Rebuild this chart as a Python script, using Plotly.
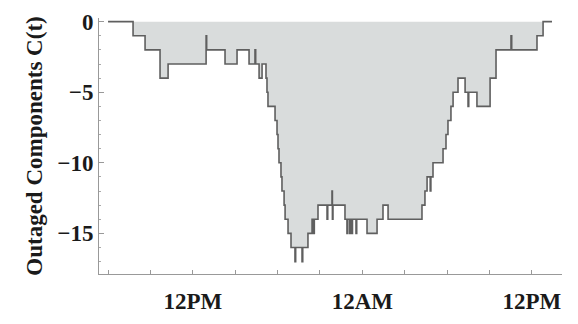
import plotly.graph_objects as go

# Time in hours (6 = 6AM day 1, 12 = 12PM, 24 = 12AM, 36 = 12PM day 2)
hours = [6.00, 7.77, 8.62, 9.68, 10.25, 12.94, 12.98, 14.28, 15.13, 15.98,
         16.40, 16.45, 16.69, 16.90, 17.18, 17.25, 17.32, 17.82, 17.96, 18.03,
         18.10, 18.24, 18.31, 18.46, 18.53, 18.74, 18.95, 19.23, 19.28, 19.73,
         19.78, 20.15, 20.44, 20.55, 20.60, 20.86, 21.50, 21.55, 21.85, 21.88,
         21.92, 22.77, 22.91, 22.96, 23.10, 23.15, 23.25, 23.30, 23.55, 23.60,
         24.33, 25.04, 25.46, 25.82, 28.22, 28.43, 28.58, 28.80, 28.85, 29.00,
         29.71, 29.92, 30.06, 30.27, 30.42, 30.77, 31.27, 31.48, 31.53, 32.11,
         33.04, 33.46, 34.52, 34.57, 36.36, 36.79, 37.42]
outaged = [0, -1, -2, -4, -3, -1, -2, -3, -2, -3,
           -2, -3, -4, -3, -4, -5, -6, -7, -8, -9,
           -10, -11, -12, -13, -14, -15, -16, -17, -16, -17,
           -16, -15, -14, -15, -14, -13, -14, -13, -12, -14,
           -13, -14, -15, -14, -15, -14, -15, -14, -15, -14,
           -15, -14, -13, -14, -13, -12, -11, -12, -11, -10,
           -9, -8, -7, -6, -5, -4, -5, -6, -5, -6,
           -4, -2, -1, -2, -1, 0, 0]

x_tick_vals = [12, 24, 36]
x_tick_text = ["12PM", "12AM", "12PM"]
x_minor_vals = [6, 9, 15, 18, 21, 27, 30, 33]
y_tick_vals = [0, -5, -10, -15]

fig = go.Figure()
fig.add_trace(go.Scatter(
    x=hours, y=outaged, mode="lines", line_shape="hv",
    line=dict(color="#5f5f5f", width=1.6),
    fill="tozeroy", fillcolor="#d9dcdc",
    showlegend=False, hoverinfo="skip"))

font_tick = dict(family="Liberation Serif", size=23, color="#1a1a1a", weight="bold")

fig.update_layout(
    width=578, height=324,
    margin=dict(l=99, r=16, t=10, b=32),
    paper_bgcolor="white", plot_bgcolor="white",
    xaxis=dict(range=[5.36, 38.13], tickmode="array", tickvals=x_tick_vals,
               ticktext=x_tick_text, ticks="inside", ticklen=4, tickcolor="#999",
               showline=True, linecolor="#999", linewidth=1, showgrid=False,
               zeroline=False, tickfont=font_tick, ticklabelstandoff=6,
               minor=dict(tickvals=x_minor_vals, ticks="inside", ticklen=4,
                          tickcolor="#999", showgrid=False)),
    yaxis=dict(range=[-17.88, 0.26], tickmode="array", tickvals=y_tick_vals,
               ticks="inside", ticklen=5, tickcolor="#999",
               showline=True, linecolor="#999", linewidth=1, showgrid=False,
               zeroline=False, tickfont=font_tick,
               minor=dict(dtick=1, tick0=0, ticks="inside", ticklen=2,
                          tickcolor="#aaa", showgrid=False),
               title=dict(text="Outaged Components C(t)",
                          font=dict(family="Liberation Serif", size=23,
                                    color="#1a1a1a", weight="bold"),
                          standoff=8)),
)
fig.write_html("out.html")
